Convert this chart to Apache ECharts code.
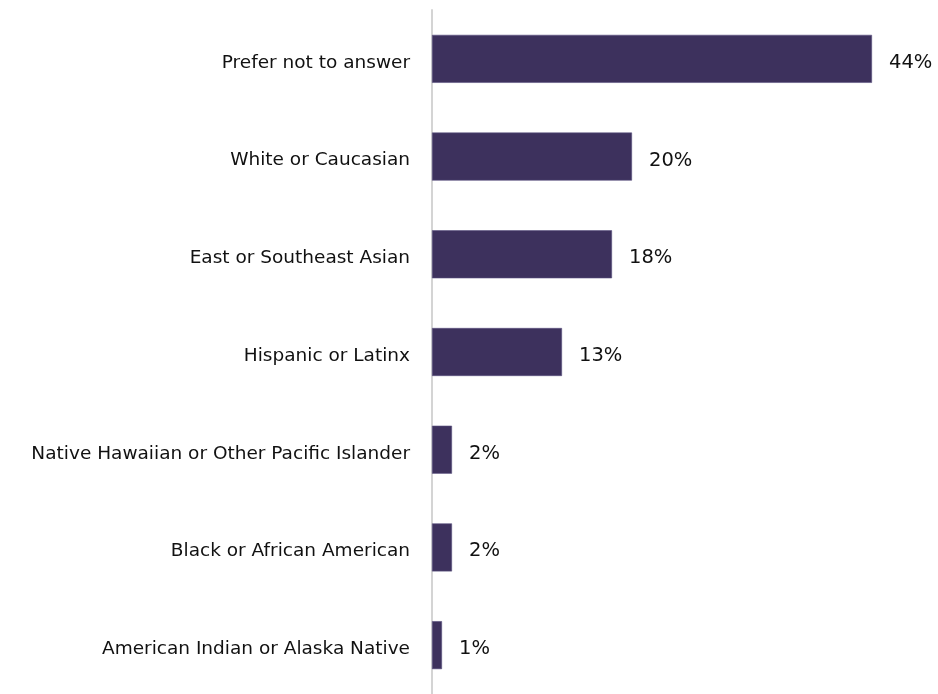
<!DOCTYPE html>
<html>
<head>
<meta charset="utf-8">
<script src="https://cdn.jsdelivr.net/npm/echarts@6/dist/echarts.min.js"></script>
<style>
  html, body { margin: 0; padding: 0; background: #ffffff; }
  #chart { width: 938px; height: 694px; }
</style>
</head>
<body>
<div id="chart"></div>
<script>
// Survey responses by race / ethnicity (share of respondents, %)
const categories = [
  'Prefer not to answer',
  'White or Caucasian',
  'East or Southeast Asian',
  'Hispanic or Latinx',
  'Native Hawaiian or Other Pacific Islander',
  'Black or African American',
  'American Indian or Alaska Native'
];
const shares = [44, 20, 18, 13, 2, 2, 1];

const barColor = '#3d315d';
const textFont = '"DejaVu Sans", "Noto Sans", sans-serif';

const chart = echarts.init(document.getElementById('chart'), null, { renderer: 'canvas' });
chart.setOption({
  backgroundColor: '#ffffff',
  animation: false,
  grid: { left: 432, right: 6, top: 10, bottom: -2, containLabel: false },
  xAxis: {
    type: 'value',
    min: 0,
    max: 50,
    show: false
  },
  yAxis: {
    type: 'category',
    data: categories,
    inverse: true,
    axisLine: { show: true, lineStyle: { color: '#d4d4d4', width: 2 } },
    axisTick: { show: false },
    splitLine: { show: false },
    axisLabel: {
      margin: 22,
      color: '#111111',
      fontSize: 18.5,
      fontFamily: textFont,
      verticalAlign: 'top',
      lineHeight: 8
    }
  },
  series: [{
    type: 'bar',
    data: shares,
    barWidth: 48,
    itemStyle: { color: barColor, borderColor: '#5b5080', borderWidth: 0.6 },
    label: {
      show: true,
      position: 'right',
      distance: 17,
      offset: [0, 4],
      formatter: p => p.value + '%',
      color: '#111111',
      fontSize: 19.5,
      fontFamily: textFont
    }
  }]
});
</script>
</body>
</html>
